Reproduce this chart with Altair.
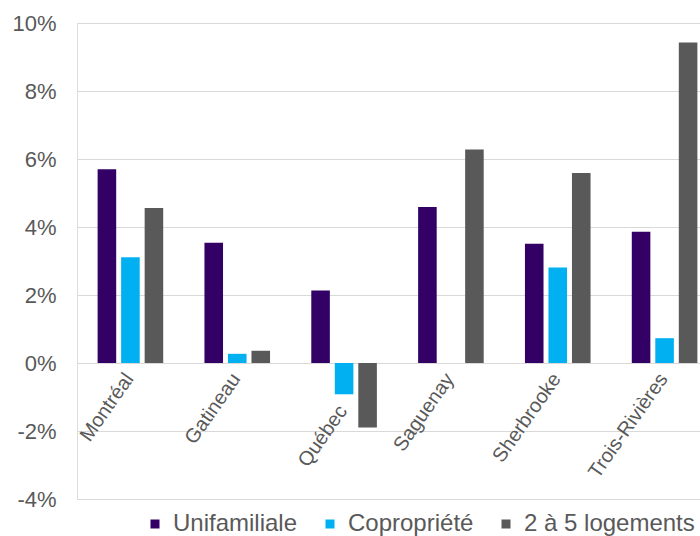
import altair as alt
import pandas as pd

cities = ["Montréal", "Gatineau", "Québec", "Saguenay", "Sherbrooke", "Trois-Rivières"]
series = ["Unifamiliale", "Copropriété", "2 à 5 logements"]
unif = [5.70, 3.54, 2.13, 4.59, 3.51, 3.86]
copro = [3.11, 0.27, -0.92, None, 2.81, 0.73]
deux = [4.56, 0.36, -1.90, 6.28, 5.59, 9.43]
colors = ["#330066", "#00B0F0", "#595959"]
y_ticks = [-4, -2, 0, 2, 4, 6, 8, 10]

rows = []
for name, vals in zip(series, [unif, copro, deux]):
    for c, v in zip(cities, vals):
        rows.append({"ville": c, "type": name, "val": v})
df = pd.DataFrame(rows)

FONT = "Liberation Sans"
GREY = "#595959"

chart = alt.Chart(df).mark_bar().encode(
    x=alt.X(
        "ville:N", sort=cities,
        scale=alt.Scale(range=[0, 641], paddingInner=0.386, paddingOuter=0.193),
        axis=alt.Axis(title=None, orient="bottom", offset=-136, domain=False, ticks=False,
                      labelAngle=-55, labelAlign="right", labelBaseline="middle",
                      labelPadding={"condition": {"test": "datum.value === 'Québec'", "value": 44},
                                    "value": 12},
                      labelOffset=-1, labelFontSize=20, labelColor=GREY,
                      labelFont=FONT),
    ),
    xOffset=alt.XOffset("type:N", sort=series, scale=alt.Scale(paddingInner=0.21, paddingOuter=0)),
    y=alt.Y(
        "val:Q",
        scale=alt.Scale(domain=[-4, 10], nice=False, zero=False),
        axis=alt.Axis(title=None, values=y_ticks, labelExpr="datum.value + '%'",
                      domain=False, ticks=False, grid=True, gridColor="#d9d9d9", gridWidth=1,
                      labelPadding=21, labelFontSize=22, labelColor=GREY, labelFont=FONT),
    ),
    color=alt.Color(
        "type:N", sort=series,
        scale=alt.Scale(domain=series, range=colors),
        legend=alt.Legend(title=None, orient="none", legendX=66, legendY=489,
                          direction="horizontal", symbolType="square", symbolSize=81,
                          symbolStrokeWidth=0, labelFontSize=24, labelColor=GREY,
                          labelFont=FONT, labelOffset=6, columnPadding=20, padding=0,
                          labelLimit=300),
    ),
).properties(
    width=623, height=476,
    padding={"left": 77, "top": 23, "right": 0, "bottom": 37},
    autosize=alt.AutoSizeParams(type="none"),
).configure_view(stroke=None).configure(font=FONT)

chart.save("out.html", embed_options={"renderer": "svg", "actions": False})
